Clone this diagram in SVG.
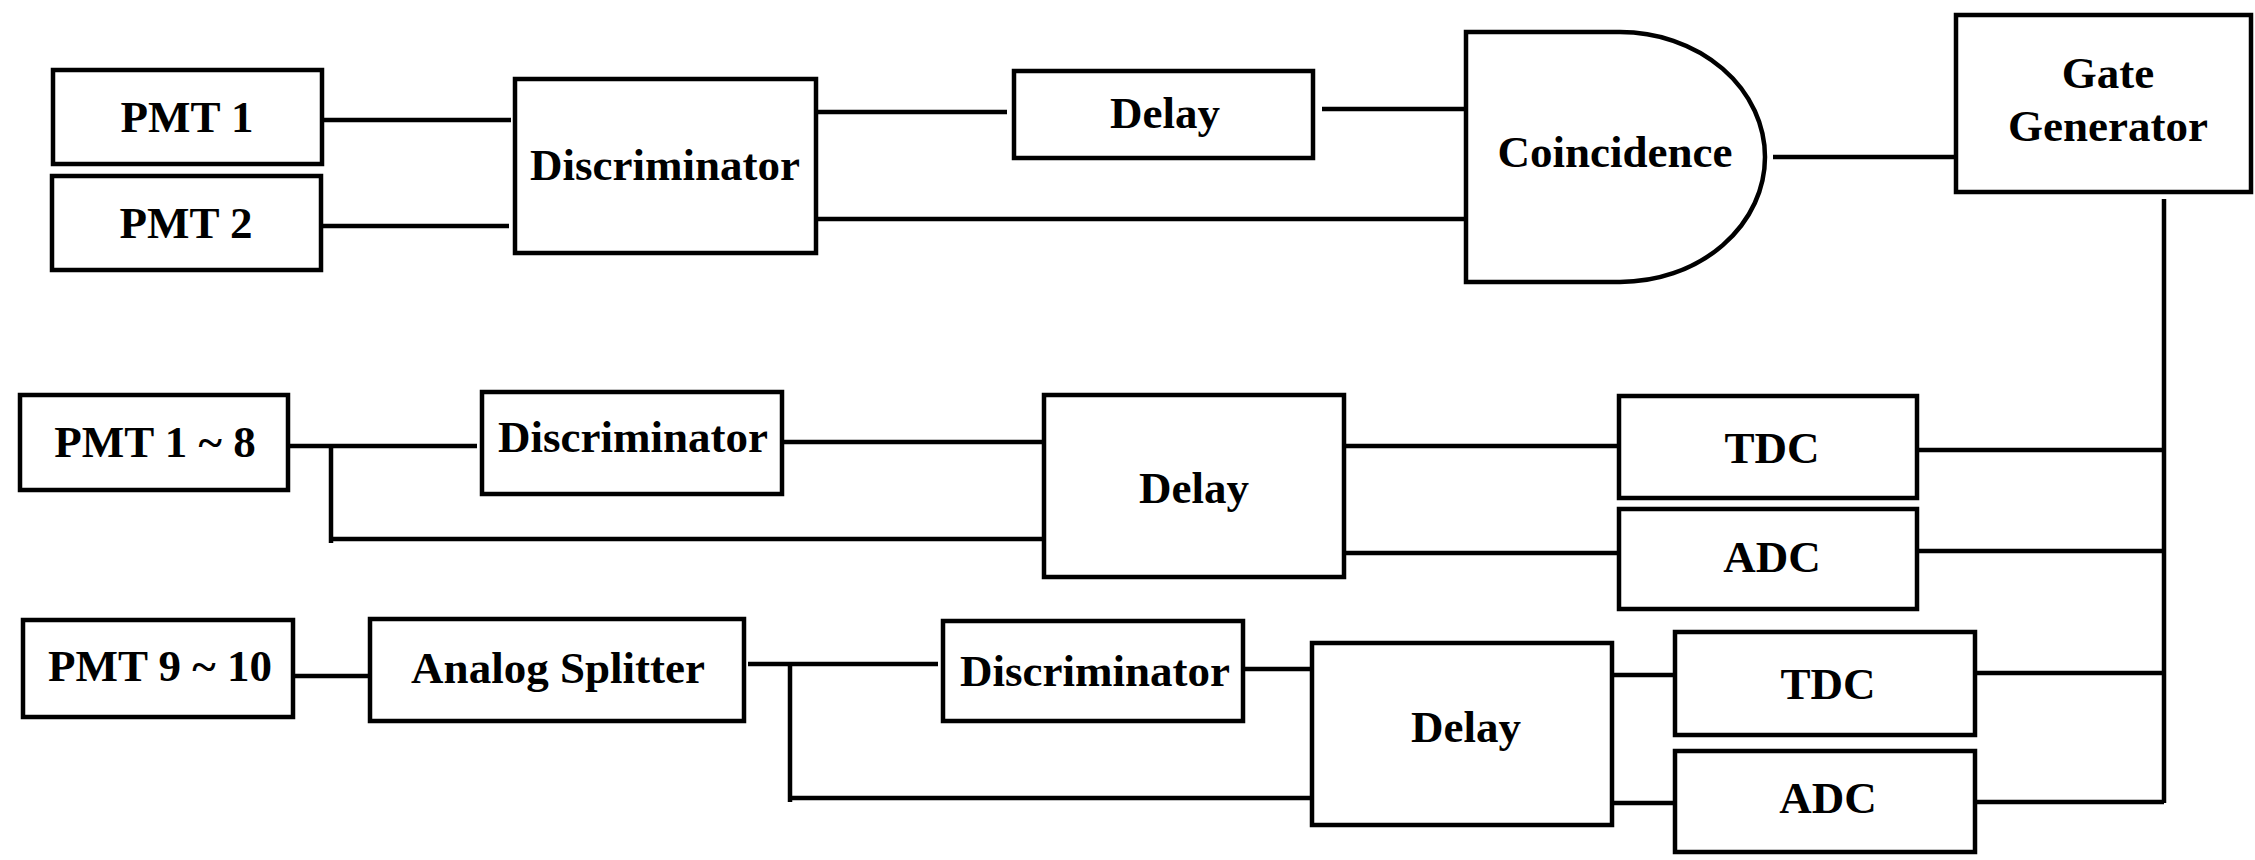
<svg xmlns="http://www.w3.org/2000/svg" width="2255" height="860" viewBox="0 0 2255 860">
<style>
.b{fill:#fff;stroke:#000;stroke-width:4.5}
.t{font-family:"Liberation Serif","Times New Roman",serif;font-weight:bold;font-size:45px;text-anchor:middle;fill:#000}
#connectors path{fill:none;stroke:#000;stroke-width:4.5}
</style>
<rect width="2255" height="860" fill="#fff"/>
<g id="connectors">
<path d="M322,120 H511"/>
<path d="M322,226 H509"/>
<path d="M816,112 H1007"/>
<path d="M1322,109 H1466"/>
<path d="M816,219 H1466"/>
<path d="M1773,157 H1963"/>
<path d="M2164,199 V803"/>
<path d="M290,446 H477"/>
<path d="M331,446 V543"/>
<path d="M331,539 H1050"/>
<path d="M782,442 H1052"/>
<path d="M1344,446 H1619"/>
<path d="M1344,553 H1619"/>
<path d="M1917,450 H2164"/>
<path d="M1917,551 H2164"/>
<path d="M293,676 H370"/>
<path d="M748,664 H938"/>
<path d="M790,664 V802"/>
<path d="M790,798 H1312"/>
<path d="M1243,669 H1312"/>
<path d="M1612,675 H1675"/>
<path d="M1612,803 H1675"/>
<path d="M1975,673 H2164"/>
<path d="M1975,802 H2164"/>
</g>
<g id="pmt1"><rect class="b" x="53" y="70" width="269" height="94"/><text class="t" x="187" y="132">PMT 1</text></g>
<g id="pmt2"><rect class="b" x="52" y="176" width="269" height="94"/><text class="t" x="186" y="238">PMT 2</text></g>
<g id="disc1"><rect class="b" x="515" y="79" width="301" height="174"/><text class="t" x="665" y="180">Discriminator</text></g>
<g id="delay1"><rect class="b" x="1014" y="71" width="299" height="87"/><text class="t" x="1165" y="128">Delay</text></g>
<g id="coincidence"><path class="b" d="M1466,32 H1620 A145,125 0 0 1 1620,282 H1466 Z"/><text class="t" x="1615" y="167">Coincidence</text></g>
<g id="gate"><rect class="b" x="1956" y="15" width="295" height="177"/><text class="t" x="2108" y="88">Gate</text><text class="t" x="2108" y="141">Generator</text></g>
<g id="pmt1-8"><rect class="b" x="20" y="395" width="268" height="95"/><text class="t" x="155" y="457">PMT 1 ~ 8</text></g>
<g id="disc2"><rect class="b" x="482" y="392" width="300" height="102"/><text class="t" x="633" y="452">Discriminator</text></g>
<g id="delay2"><rect class="b" x="1044" y="395" width="300" height="182"/><text class="t" x="1194" y="503">Delay</text></g>
<g id="tdc2"><rect class="b" x="1619" y="396" width="298" height="102"/><text class="t" x="1772" y="463">TDC</text></g>
<g id="adc2"><rect class="b" x="1619" y="509" width="298" height="100"/><text class="t" x="1772" y="572">ADC</text></g>
<g id="pmt9-10"><rect class="b" x="23" y="620" width="270" height="97"/><text class="t" x="160" y="681">PMT 9 ~ 10</text></g>
<g id="splitter"><rect class="b" x="370" y="619" width="374" height="102"/><text class="t" x="558" y="683">Analog Splitter</text></g>
<g id="disc3"><rect class="b" x="943" y="621" width="300" height="100"/><text class="t" x="1095" y="686">Discriminator</text></g>
<g id="delay3"><rect class="b" x="1312" y="643" width="300" height="182"/><text class="t" x="1466" y="742">Delay</text></g>
<g id="tdc3"><rect class="b" x="1675" y="632" width="300" height="103"/><text class="t" x="1828" y="699">TDC</text></g>
<g id="adc3"><rect class="b" x="1675" y="751" width="300" height="101"/><text class="t" x="1828" y="813">ADC</text></g>
</svg>
